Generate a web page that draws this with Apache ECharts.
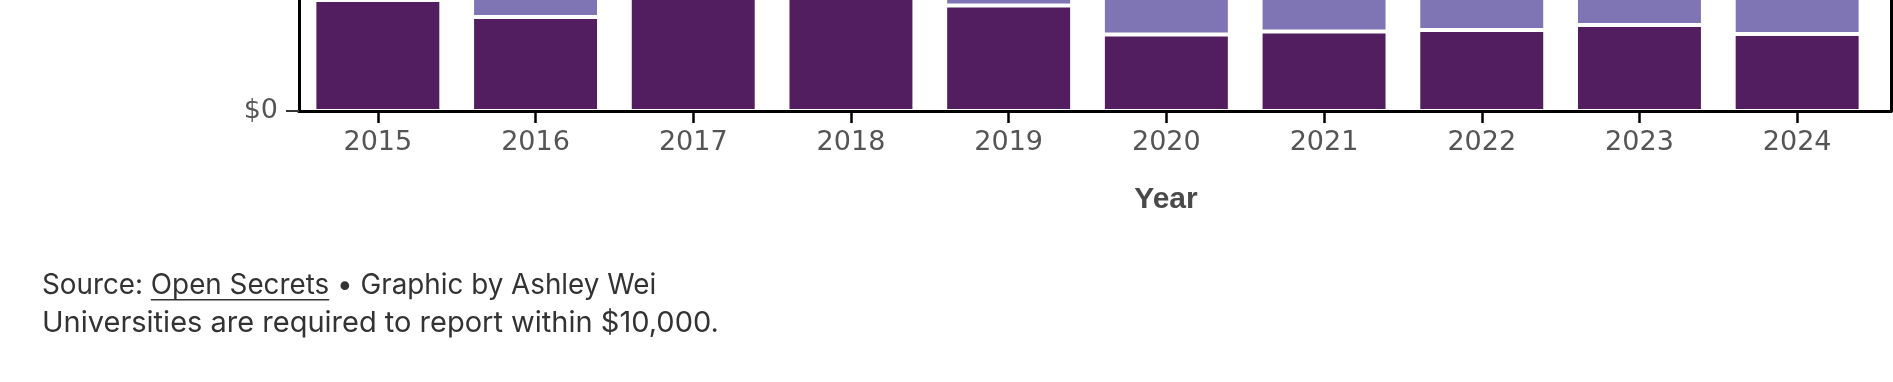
<!DOCTYPE html>
<html>
<head>
<meta charset="utf-8">
<script src="https://cdn.jsdelivr.net/npm/echarts@6/dist/echarts.min.js"></script>
<style>
html,body{margin:0;padding:0;background:#fff;}
#chart{width:1893px;height:382px;}
</style>
</head>
<body>
<div id="chart"></div>
<script>
// Data (top part of the chart is cropped in the reference; values in dollars)
const years = ['2015','2016','2017','2018','2019','2020','2021','2022','2023','2024'];
const darkValues = [111000, 94000, 300000, 320000, 105500, 76500, 79500, 81000, 86000, 77000];
const lightValues = [120000, 210000, 90000, 60000, 180000, 250000, 260000, 270000, 240000, 280000];
const yTicks = { min: 0, max: 800000, interval: 200000 };

const FONT = 'Inter';
const TICKFONT = '"DejaVu Sans"';
const foot1 = 27.8, foot2 = 29;
const mctx = document.createElement('canvas').getContext('2d');
mctx.font = foot1 + 'px ' + FONT;
const wSource = mctx.measureText('Source: ').width;
const wOpen = mctx.measureText('Open Secrets').width;

const chart = echarts.init(document.getElementById('chart'), null, {renderer: 'canvas'});
const option = {
  animation: false,
  backgroundColor: '#fff',
  grid: [
    {left: 299, right: 17, top: -689, bottom: 271, containLabel: false, outerBoundsMode: 'none'},
    {left: 299, right: 2, top: -689, bottom: 271, containLabel: false, outerBoundsMode: 'none'}
  ],
  xAxis: [
    {
      type: 'category', gridIndex: 0, data: years, z: 5,
      axisLine: {show: true, lineStyle: {color: '#000', width: 3}},
      axisTick: {show: true, alignWithLabel: true, length: 12, lineStyle: {color: '#000', width: 2.5}},
      axisLabel: {fontFamily: TICKFONT, fontSize: 27, color: '#555', margin: 18}
    },
    {
      type: 'value', gridIndex: 1, min: 0, max: 1, z: 5,
      axisLine: {show: true, onZero: false, lineStyle: {color: '#000', width: 3}},
      axisTick: {show: false}, axisLabel: {show: false}, splitLine: {show: false}
    }
  ],
  yAxis: [
    {
      type: 'value', gridIndex: 0, min: yTicks.min, max: yTicks.max, interval: yTicks.interval, z: 5,
      axisLine: {show: true, lineStyle: {color: '#000', width: 3}},
      axisTick: {show: true, length: 13, lineStyle: {color: '#333', width: 2}},
      axisLabel: {fontFamily: TICKFONT, fontSize: 27, color: '#555', margin: 21,
        formatter: v => '$' + v.toLocaleString('en-US')},
      splitLine: {show: false}
    },
    {
      type: 'value', gridIndex: 1, position: 'right', min: 0, max: 1, z: 5,
      axisLine: {show: true, onZero: false, lineStyle: {color: '#000', width: 3}},
      axisTick: {show: false}, axisLabel: {show: false}, splitLine: {show: false}
    }
  ],
  series: [
    {
      type: 'bar', name: 'dark', stack: 'total', xAxisIndex: 0, yAxisIndex: 0,
      data: darkValues, barCategoryGap: '19.5%',
      itemStyle: {color: '#521e5f', borderColor: '#fff', borderWidth: 2}
    },
    {
      type: 'bar', name: 'light', stack: 'total', xAxisIndex: 0, yAxisIndex: 0,
      data: lightValues, barCategoryGap: '19.5%',
      itemStyle: {color: '#7f74b4', borderColor: '#fff', borderWidth: 2}
    }
  ],
  graphic: [
    {type: 'text', x: 1166, y: 199.5, style: {text: 'Year', font: 'bold 30px "Liberation Sans", Arial, sans-serif', fill: '#4a4a4a', align: 'center', verticalAlign: 'middle'}},
    {type: 'text', x: 42, y: 285.5, style: {text: 'Source: Open Secrets \u2022 Graphic by Ashley Wei', font: foot1 + 'px ' + FONT, fill: '#333', align: 'left', verticalAlign: 'middle'}},
    {type: 'rect', shape: {x: 42 + wSource, y: 299, width: wOpen, height: 1.6}, style: {fill: '#333'}},
    {type: 'text', x: 42, y: 323.5, style: {text: 'Universities are required to report within $10,000.', font: foot2 + 'px ' + FONT, fill: '#333', align: 'left', verticalAlign: 'middle'}}
  ]
};
chart.setOption(option);
</script>
</body>
</html>
